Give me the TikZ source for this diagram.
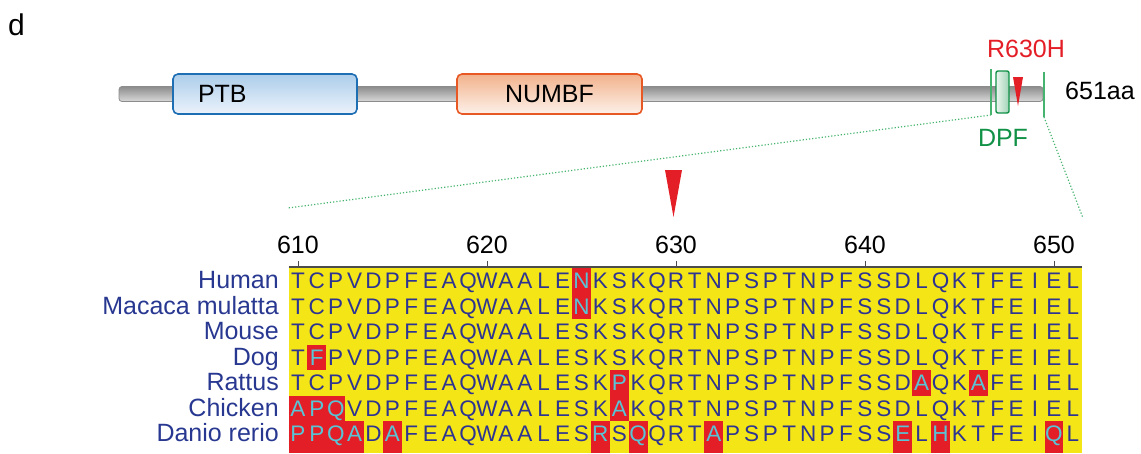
\documentclass[tikz,border=0pt]{standalone}
\usepackage{xcolor}
\usepackage{tikz}
\usepackage{fontspec}
\setmainfont{Liberation Sans}
\usetikzlibrary{calc}

\definecolor{ptbline}{RGB}{30,110,180}
\definecolor{ptbtop}{RGB}{172,205,234}
\definecolor{ptbbot}{RGB}{236,243,251}
\definecolor{numbfline}{RGB}{232,88,36}
\definecolor{numbftop}{RGB}{242,178,140}
\definecolor{numbfbot}{RGB}{253,241,234}
\definecolor{dpfgreen}{RGB}{16,145,70}
\definecolor{zoomgreen}{RGB}{70,180,110}
\definecolor{mutred}{RGB}{228,30,38}
\definecolor{alnyellow}{RGB}{244,229,22}
\definecolor{resblue}{RGB}{45,52,146}
\definecolor{subcyan}{RGB}{88,196,214}
\definecolor{specblue}{RGB}{40,56,145}

\tikzstyle{every node}=[font=\fontsize{25}{30}\selectfont, inner sep=0pt]
\tikzstyle{domainbox}=[rounded corners=5pt, line width=1.6pt, minimum height=40pt]
\tikzstyle{res}=[font=\fontsize{22.5}{26}\selectfont, text=resblue, anchor=base]
\tikzstyle{subst}=[res, text=subcyan]
\tikzstyle{species}=[font=\fontsize{25}{28}\selectfont, text=specblue, anchor=base east]

% one line of the alignment: #1 row, #2 species, #3 residues (lower case = substitution)
\newcommand{\alnrow}[3]{%
  \node[species] (sp#1) at (279,{288.75+25.5*#1}) {#2};
  \foreach \ch [count=\col from 0] in {#3} {
    \expandafter\ifnum\expandafter`\ch>96
      \fill[mutred] ({288.5+18.9*\col},{268+25.5*#1}) rectangle ({307.4+18.9*\col},{#1==6 ? 453 : 293.5+25.5*#1});
      \node[subst] (r#1-\col) at ({297.95+18.9*\col},{288.75+25.5*#1}) {\uppercase\expandafter{\ch}};
    \else
      \node[res] (r#1-\col) at ({297.95+18.9*\col},{288.75+25.5*#1}) {\ch};
    \fi
  }
}

\begin{document}
\begin{tikzpicture}[x=1pt,y=-1pt]
  \useasboundingbox (0,0) rectangle (1141,453);

  \node[font=\fontsize{30}{34}\selectfont] (panel) at (16.5,25) {d};

  % protein backbone and domains
  \node[draw=black!45, line width=0.8pt, rounded corners=3pt, top color=black!45, bottom color=black!15,
        minimum width=924pt, minimum height=15pt] (bar) at (581,94) {};
  \node[domainbox, draw=ptbline, top color=ptbtop, bottom color=ptbbot, minimum width=184pt,
        text width=134pt, inner xsep=25pt, align=left] (ptb) at (265,94) {PTB};
  \node[domainbox, draw=numbfline, top color=numbftop, bottom color=numbfbot, minimum width=185pt] (numbf) at (549.5,94) {NUMBF};
  \node[draw=dpfgreen, line width=1.4pt, rounded corners=2pt, left color=dpfgreen!8, right color=dpfgreen!40,
        minimum width=13pt, minimum height=42pt] (dpf) at (1002.5,92) {};
  \fill[mutred] (1013,77) -- (1023,77) -- (1018,106) -- cycle;

  \node[text=mutred] (mut) at (1026,48.5) {R630H};
  \node[text=dpfgreen] (dpflab) at (1003,137.5) {DPF};
  \node[anchor=west] (len) at (1065,91) {651aa};

  % zoomed region
  \coordinate (zl) at (991,69);
  \coordinate (zlb) at (991,115);
  \coordinate (zr) at (1044,72);
  \coordinate (zrb) at (1044,117);
  \coordinate (fanl) at (288,208);
  \coordinate (fanr) at (1083,218);
  \draw[zoomgreen, line width=1.1pt] (zl) -- (zlb);
  \draw[zoomgreen, line width=1.1pt] (zr) -- (zrb);
  \draw[zoomgreen, line width=1.2pt, dotted] (zlb) -- (fanl);
  \draw[zoomgreen, line width=1.2pt, dotted] (zrb) -- (fanr);

  \fill[mutred] (665,170) -- (682,170) -- (673.5,217) -- cycle;

  % alignment
  \fill[alnyellow] (288.5,267) rectangle (1082.3,453);
  \draw[black!70, line width=1.2pt] (288.5,267) -- (1082.3,267);
  \foreach \pos [count=\i from 0] in {610,620,630,640,650} {
    \draw[black!70, line width=0.8pt] ({297.95+189*\i},261) -- ({297.95+189*\i},267);
    \node (tick\pos) at ({297.95+189*\i},245) {\pos};
  }

  \alnrow{0}{Human}{T,C,P,V,D,P,F,E,A,Q,W,A,A,L,E,n,K,S,K,Q,R,T,N,P,S,P,T,N,P,F,S,S,D,L,Q,K,T,F,E,I,E,L}
  \alnrow{1}{Macaca mulatta}{T,C,P,V,D,P,F,E,A,Q,W,A,A,L,E,n,K,S,K,Q,R,T,N,P,S,P,T,N,P,F,S,S,D,L,Q,K,T,F,E,I,E,L}
  \alnrow{2}{Mouse}{T,C,P,V,D,P,F,E,A,Q,W,A,A,L,E,S,K,S,K,Q,R,T,N,P,S,P,T,N,P,F,S,S,D,L,Q,K,T,F,E,I,E,L}
  \alnrow{3}{Dog}{T,f,P,V,D,P,F,E,A,Q,W,A,A,L,E,S,K,S,K,Q,R,T,N,P,S,P,T,N,P,F,S,S,D,L,Q,K,T,F,E,I,E,L}
  \alnrow{4}{Rattus}{T,C,P,V,D,P,F,E,A,Q,W,A,A,L,E,S,K,p,K,Q,R,T,N,P,S,P,T,N,P,F,S,S,D,a,Q,K,a,F,E,I,E,L}
  \alnrow{5}{Chicken}{a,p,q,V,D,P,F,E,A,Q,W,A,A,L,E,S,K,a,K,Q,R,T,N,P,S,P,T,N,P,F,S,S,D,L,Q,K,T,F,E,I,E,L}
  \alnrow{6}{Danio rerio}{p,p,q,a,D,a,F,E,A,Q,W,A,A,L,E,S,r,S,q,Q,R,T,a,P,S,P,T,N,P,F,S,S,e,L,h,K,T,F,E,I,q,L}
\end{tikzpicture}
\end{document}
